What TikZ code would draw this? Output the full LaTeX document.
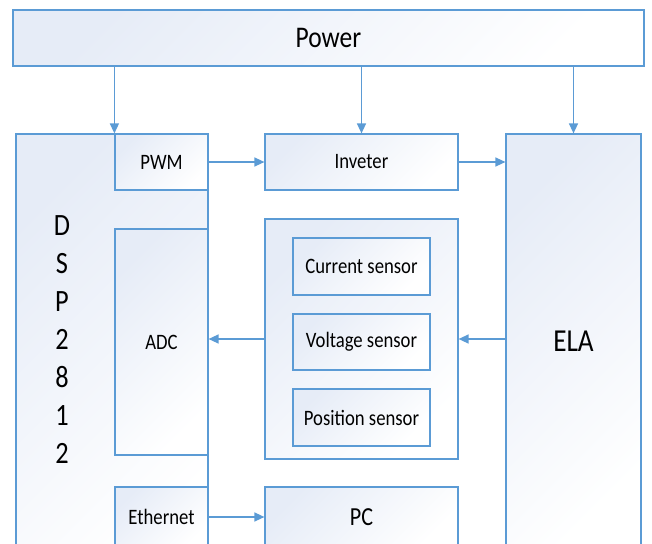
\documentclass[tikz,border=0pt]{standalone}
\usepackage{fontspec}
\setmainfont{Carlito}[FakeStretch=0.85]
\usetikzlibrary{arrows.meta}

\definecolor{boxline}{RGB}{91,155,213}
\definecolor{boxfill}{RGB}{230,236,247}

\tikzset{
  blk/.style={draw=boxline, line width=1.2pt, top color=boxfill, bottom color=white,
    shading angle=45, inner sep=0pt, font=\fontsize{22}{26}\selectfont},
  sig/.style={draw=boxline, line width=1.4pt, -{Triangle[length=10pt,width=9pt]}},
}

\begin{document}
\begin{tikzpicture}[x=1pt,y=1pt,yscale=-1]
\clip (0,0) rectangle (652,543);

%Power supply
\node[blk, minimum width=631, minimum height=56, font=\fontsize{30}{36}\selectfont] (power) at (328.5,38) {Power};

%DSP block with its peripherals
\node[blk, minimum width=192, minimum height=430] (dsp) at (112,349) {};
\node[font=\fontsize{31}{38}\selectfont, align=center] (dsplbl) at (62,340) {D\\S\\P\\2\\8\\1\\2};
\node[blk, minimum width=93, minimum height=56] (pwm) at (161.5,162) {PWM};
\node[blk, minimum width=93, minimum height=226] (adc) at (161.5,342) {ADC};
\node[blk, minimum width=93, minimum height=60] (eth) at (161.5,517) {Ethernet};

%Middle column
\node[blk, minimum width=193, minimum height=56] (inv) at (361.5,162) {Inveter};
\node[blk, minimum width=193, minimum height=240] (sens) at (361.5,339) {};
\node[blk, minimum width=137, minimum height=57] (cur) at (361.5,266.5) {Current sensor};
\node[blk, minimum width=137, minimum height=56] (vol) at (361.5,342) {Voltage sensor};
\node[blk, minimum width=137, minimum height=57] (pos) at (361.5,417.5) {Position sensor};
\node[blk, minimum width=193, minimum height=60, font=\fontsize{26}{30}\selectfont] (pc) at (361.5,517) {PC};

%Load
\node[blk, minimum width=135, minimum height=414, font=\fontsize{32}{36}\selectfont] (ela) at (573.5,341) {ELA};

%Connections
\draw[sig] (power.south -| pwm.north west) -- (pwm.north west);
\draw[sig] (power.south -| inv.north) -- (inv.north);
\draw[sig] (power.south -| ela.north) -- (ela.north);
\draw[sig] (pwm.east) -- (inv.west);
\draw[sig] (inv.east) -- (inv.east -| ela.west);
\draw[sig] (sens.west) -- (sens.west -| adc.east);
\draw[sig] (sens.east -| ela.west) -- (sens.east);
\draw[sig] (eth.east) -- (pc.west);
\end{tikzpicture}
\end{document}
